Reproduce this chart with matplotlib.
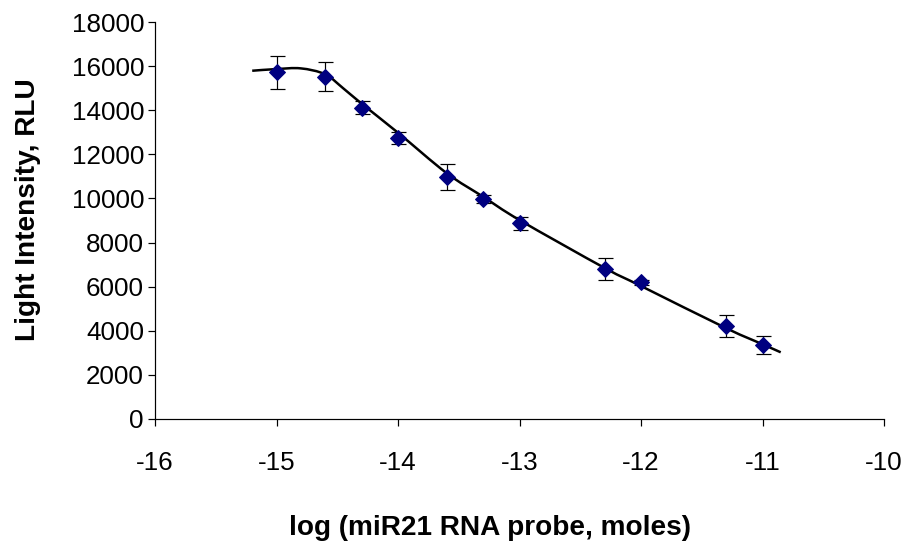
import numpy as np
import matplotlib
matplotlib.use("Agg")
import matplotlib.pyplot as plt
from matplotlib.path import Path
from matplotlib.patches import PathPatch

plt.rcParams['font.family'] = ['Liberation Sans', 'DejaVu Sans']

log_moles = [-15.0, -14.6, -14.3, -14.0, -13.6, -13.3, -13.0, -12.3, -12.0, -11.3, -11.0]
intensity = [15720, 15520, 14110, 12750, 10980, 9970, 8870, 6800, 6200, 4220, 3350]
errors = [750, 650, 290, 280, 575, 170, 310, 500, 120, 490, 415]

# Fitted trend curve values (drawn as a smoothed line)
fit_x = [-15.2, -15.0, -14.8, -14.6, -14.45, -14.3, -14.0, -13.6, -13.3, -13.0,
         -12.3, -12.0, -11.3, -11.0, -10.85]
fit_y = [15790, 15866, 15897, 15630, 14990, 14300, 12980, 11150, 10080, 9020,
         6850, 6030, 4120, 3390, 3024]

x_ticks = [-16, -15, -14, -13, -12, -11, -10]
y_ticks = list(range(0, 18001, 2000))


def smooth_path(xs, ys):
    """Excel-style smoothed line: cubic Bezier segments through the points."""
    p = np.column_stack([xs, ys]).astype(float)
    n = len(p)
    verts = [p[0]]
    codes = [Path.MOVETO]
    for i in range(n - 1):
        p0 = p[i - 1] if i > 0 else p[i]
        p3 = p[i + 2] if i + 2 < n else p[i + 1]
        c1 = p[i] + (p[i + 1] - p0) / 6.0
        c2 = p[i + 1] - (p3 - p[i]) / 6.0
        verts += [c1, c2, p[i + 1]]
        codes += [Path.CURVE4] * 3
    return Path(verts, codes)


DPI = 72
fig = plt.figure(figsize=(907 / DPI, 544 / DPI), dpi=DPI)
ax = fig.add_axes([155 / 907, 1 - 419 / 544, (884 - 155) / 907, (419 - 22) / 544])

ax.add_patch(PathPatch(smooth_path(fit_x, fit_y), facecolor='none',
                       edgecolor='black', lw=2.5, zorder=2))

ax.errorbar(log_moles, intensity, yerr=errors, fmt='D', color='#000080',
            markersize=12, ecolor='black', elinewidth=1.2, capsize=7.5,
            capthick=1.2, zorder=3)

ax.set_xlim(-16, -10)
ax.set_ylim(0, 18000)
ax.set_xticks(x_ticks)
ax.set_xticklabels([str(t) for t in x_ticks])
ax.set_yticks(y_ticks)
ax.set_yticklabels([str(t) for t in y_ticks])

for s in ['top', 'right']:
    ax.spines[s].set_visible(False)
for s in ['left', 'bottom']:
    ax.spines[s].set_linewidth(1.2)

ax.tick_params(axis='y', direction='out', length=7, width=1.2, pad=4, labelsize=26)
ax.tick_params(axis='x', direction='out', length=7, width=1.2, pad=25, labelsize=26)

ax.set_xlabel('log (miR21 RNA probe, moles)', fontsize=28, fontweight='bold', va='center')
ax.set_ylabel('Light Intensity, RLU', fontsize=28, fontweight='bold', va='center')
ax.xaxis.set_label_coords((490 - 155) / 729, (419 - 528) / 397)
ax.yaxis.set_label_coords((28 - 155) / 729, (419 - 210) / 397)

fig.savefig('out.png', dpi=DPI)
